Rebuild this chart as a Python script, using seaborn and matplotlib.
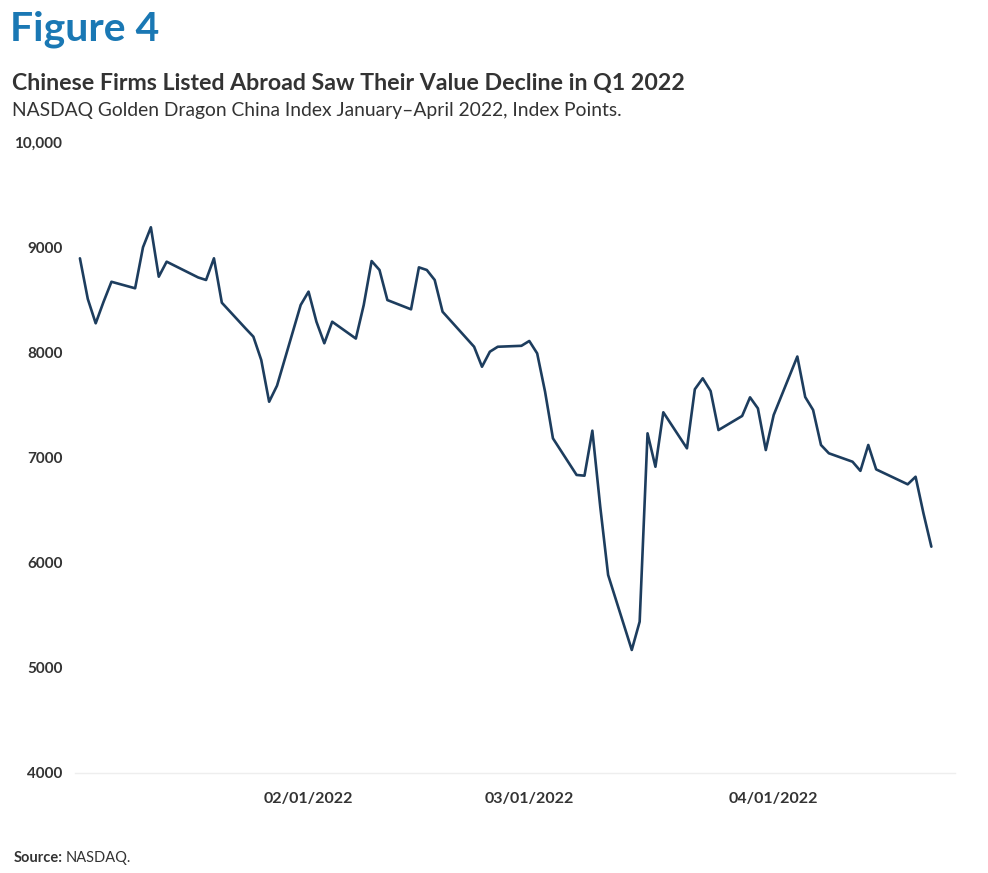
import matplotlib
matplotlib.use("Agg")
import matplotlib.pyplot as plt
import seaborn as sns
import pandas as pd

dates = [
    "2022-01-03", "2022-01-04", "2022-01-05", "2022-01-06", "2022-01-07",
    "2022-01-10", "2022-01-11", "2022-01-12", "2022-01-13", "2022-01-14",
    "2022-01-18", "2022-01-19", "2022-01-20", "2022-01-21",
    "2022-01-24", "2022-01-25", "2022-01-26", "2022-01-27", "2022-01-28",
    "2022-01-31", "2022-02-01", "2022-02-02", "2022-02-03", "2022-02-04",
    "2022-02-07", "2022-02-08", "2022-02-09", "2022-02-10", "2022-02-11",
    "2022-02-14", "2022-02-15", "2022-02-16", "2022-02-17", "2022-02-18",
    "2022-02-22", "2022-02-23", "2022-02-24", "2022-02-25",
    "2022-02-28", "2022-03-01", "2022-03-02", "2022-03-03", "2022-03-04",
    "2022-03-07", "2022-03-08", "2022-03-09", "2022-03-10", "2022-03-11",
    "2022-03-14", "2022-03-15", "2022-03-16", "2022-03-17", "2022-03-18",
    "2022-03-21", "2022-03-22", "2022-03-23", "2022-03-24", "2022-03-25",
    "2022-03-28", "2022-03-29", "2022-03-30", "2022-03-31", "2022-04-01",
    "2022-04-04", "2022-04-05", "2022-04-06", "2022-04-07", "2022-04-08",
    "2022-04-11", "2022-04-12", "2022-04-13", "2022-04-14",
    "2022-04-18", "2022-04-19", "2022-04-20", "2022-04-21",
]
index_points = [
    8894, 8507, 8276, 8481, 8671,
    8609, 8999, 9189, 8719, 8862,
    8712, 8688, 8894, 8472,
    8228, 8149, 7927, 7530, 7683,
    8450, 8577, 8291, 8086, 8291,
    8131, 8450, 8868, 8783, 8497,
    8409, 8808, 8783, 8688, 8386,
    8053, 7863, 8006, 8053,
    8062, 8108, 7990, 7626, 7182,
    6834, 6827, 7255, 6532, 5883,
    5170, 5439, 7230, 6912, 7430,
    7087, 7649, 7753, 7632, 7261,
    7395, 7572, 7467, 7071, 7404,
    7960, 7575, 7452, 7119, 7040,
    6960, 6873, 7119, 6887,
    6745, 6817, 6469, 6152,
]
y_ticks = [4000, 5000, 6000, 7000, 8000, 9000, 10000]
y_tick_labels = ["4000", "5000", "6000", "7000", "8000", "9000", "10,000"]
x_ticks = ["2022-02-01", "2022-03-01", "2022-04-01"]
x_tick_labels = ["02/01/2022", "03/01/2022", "04/01/2022"]

df = pd.DataFrame({"date": pd.to_datetime(dates), "value": index_points})

sns.set_theme(style="white")
plt.rcParams["font.family"] = ["Lato", "DejaVu Sans"]

W, H = 988, 873
fig = plt.figure(figsize=(W / 100, H / 100), dpi=100)
ax = fig.add_axes([75 / W, 1 - 773 / H, (955 - 75) / W, (773 - 142) / H])

sns.lineplot(data=df, x="date", y="value", ax=ax, color="#1d3d5e", linewidth=1.9)

ax.set_ylim(4000, 10000)
ax.set_xlim(pd.Timestamp("2022-01-03") - pd.Timedelta(hours=15),
            pd.Timestamp("2022-04-21") + pd.Timedelta(days=3))
ax.set_yticks(y_ticks)
ax.set_yticklabels(y_tick_labels)
ax.set_xticks(pd.to_datetime(x_ticks))
ax.set_xticklabels(x_tick_labels)
ax.set_xlabel("")
ax.set_ylabel("")
for s in ["top", "right", "left"]:
    ax.spines[s].set_visible(False)
ax.spines["bottom"].set_color("#eeeeee")
ax.spines["bottom"].set_linewidth(1)
ax.tick_params(axis="both", length=0)
ax.tick_params(axis="y", pad=9, labelsize=11, labelcolor="#333333")
ax.tick_params(axis="x", pad=14, labelsize=11.5, labelcolor="#333333")
for lab in ax.get_xticklabels() + ax.get_yticklabels():
    lab.set_fontweight("bold")

fig.text(10 / W, 1 - 41 / H, "Figure 4", fontsize=29.5, fontweight="bold",
         color="#1a78b4", ha="left", va="baseline")
fig.text(12 / W, 1 - 90 / H, "Chinese Firms Listed Abroad Saw Their Value Decline in Q1 2022",
         fontsize=16.7, fontweight="bold", color="#333333", ha="left", va="baseline")
fig.text(12 / W, 1 - 116 / H, "NASDAQ Golden Dragon China Index January\u2013April 2022, Index Points.",
         fontsize=13.9, fontweight="normal", color="#333333", ha="left", va="baseline")
t1 = fig.text(14 / W, 1 - 862 / H, "Source:", fontsize=10.5, fontweight="bold",
              color="#333333", ha="left", va="baseline")
fig.canvas.draw()
bb = t1.get_window_extent()
fig.text((bb.x1 + 3) / W, 1 - 862 / H, "NASDAQ.", fontsize=10.5, fontweight="normal",
         color="#333333", ha="left", va="baseline")

fig.savefig("out.png", dpi=100)
